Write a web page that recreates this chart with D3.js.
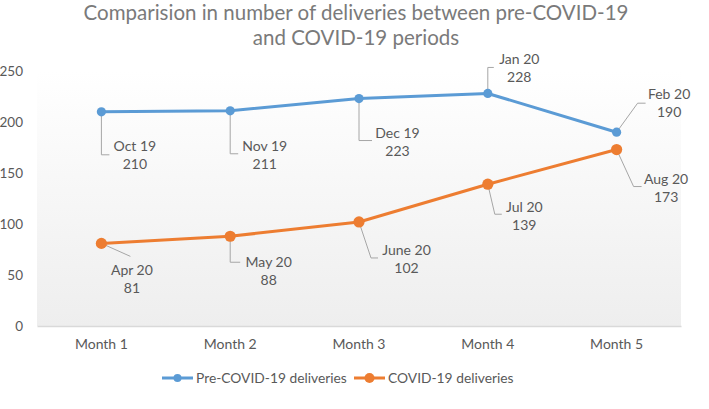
<!DOCTYPE html>
<html>
<head>
<meta charset="utf-8">
<script src="https://cdn.jsdelivr.net/npm/d3@7"></script>
<style>
  html, body { margin: 0; padding: 0; background: #ffffff; }
  svg { display: block; font-family: Lato, "Open Sans", sans-serif; }
</style>
</head>
<body>
<svg id="chart" width="709" height="409"></svg>
<script>
// ---- data ----
const categories = ["Month 1", "Month 2", "Month 3", "Month 4", "Month 5"];
const preCovidValues = [210, 211, 223, 228, 190];
const preCovidLabels = ["Oct 19", "Nov 19", "Dec 19", "Jan 20", "Feb 20"];
const covidValues = [81, 88, 102, 139, 173];
const covidLabels = ["Apr 20", "May 20", "June 20", "Jul 20", "Aug 20"];
const yTicks = [0, 50, 100, 150, 200, 250];
const seriesNames = ["Pre-COVID-19 deliveries", "COVID-19 deliveries"];
const titleLines = ["Comparision in number of deliveries between pre-COVID-19", "and COVID-19 periods"];

// ---- layout (label placement relative to points) ----
const preLayout = [
  {dx: 33.5, dy: 34, leader: [[0,0],[0,43],[8,43]]},
  {dx: 34.5, dy: 35, leader: [[0,0],[0,43],[8,43]]},
  {dx: 38.5, dy: 34.5, leader: [[0,0],[0,42],[13,42]]},
  {dx: 31.5, dy: -34.5, leader: [[0,0],[0,-26],[6,-26]]},
  {dx: 52.5, dy: -38, leader: [[0,0],[21,-29],[29,-29]]}
];
const covLayout = [
  {dx: 30.5, dy: 26.6, leader: [[0,0],[29,13]]},
  {dx: 38.5, dy: 26, leader: [[0,0],[0,26],[10,26]]},
  {dx: 47.5, dy: 28, leader: [[0,0],[12,36],[19,36]]},
  {dx: 36.5, dy: 23, leader: [[0,0],[7,30],[14,30]]},
  {dx: 49.5, dy: 29.5, leader: [[0,0],[17,37],[25,37]]}
];

const blue = "#5B9BD5", orange = "#ED7D31";
const textGray = "#595959";

const svg = d3.select("#chart");
const plot = {left: 37, right: 681, top: 71, bottom: 326};

const x = d3.scaleBand().domain(categories).range([plot.left, plot.right]);
const y = d3.scaleLinear().domain([0, 250]).range([plot.bottom, plot.top]);
const cx = c => x(c) + x.bandwidth() / 2;

// gradient background of plot area
const defs = svg.append("defs");
const grad = defs.append("linearGradient").attr("id", "bg").attr("x1", 0).attr("y1", 0).attr("x2", 0).attr("y2", 1);
grad.append("stop").attr("offset", "0%").attr("stop-color", "#ffffff");
grad.append("stop").attr("offset", "100%").attr("stop-color", "#eeeeee");
svg.append("rect")
  .attr("x", plot.left).attr("y", plot.top)
  .attr("width", plot.right - plot.left).attr("height", plot.bottom - plot.top)
  .attr("fill", "url(#bg)");

// title
svg.append("g").selectAll("text").data(titleLines).join("text")
  .attr("x", 356).attr("y", (d, i) => 20 + i * 25)
  .attr("text-anchor", "middle")
  .attr("font-size", 20.5)
  .attr("fill", "#7a7a7a")
  .text(d => d);

// y axis labels
svg.append("g").selectAll("text").data(yTicks).join("text")
  .attr("x", 23).attr("y", d => y(d))
  .attr("dy", "0.35em")
  .attr("text-anchor", "end")
  .attr("font-size", 13.5)
  .attr("fill", textGray)
  .text(d => d);

// x axis line
const xAxis = d3.axisBottom(x).tickSize(0).tickPadding(13);
const gx = svg.append("g").attr("transform", `translate(0,${plot.bottom})`).call(xAxis);
gx.select(".domain").attr("stroke", "#d9d9d9").attr("stroke-width", 1.3);
gx.selectAll("text").attr("font-size", 14).attr("fill", textGray)
  .attr("font-family", "Lato, 'Open Sans', sans-serif");

// series
const series = [
  {values: preCovidValues, labels: preCovidLabels, color: blue, r: 4.6, layout: preLayout},
  {values: covidValues, labels: covidLabels, color: orange, r: 5.6, layout: covLayout}
];

const line = d3.line().x((d, i) => cx(categories[i])).y(d => y(d));

series.forEach(s => {
  const g = svg.append("g");
  // leader lines
  g.selectAll("path.leader").data(s.values).join("path")
    .attr("class", "leader")
    .attr("d", (d, i) => {
      const px = cx(categories[i]), py = y(d);
      return d3.line()(s.layout[i].leader.map(p => [px + p[0], py + p[1]]));
    })
    .attr("fill", "none").attr("stroke", "#a6a6a6").attr("stroke-width", 1);
  g.append("path").datum(s.values)
    .attr("d", line)
    .attr("fill", "none").attr("stroke", s.color).attr("stroke-width", 3)
    .attr("stroke-linejoin", "round");
  g.selectAll("circle").data(s.values).join("circle")
    .attr("cx", (d, i) => cx(categories[i])).attr("cy", d => y(d))
    .attr("r", s.r).attr("fill", s.color);
  const lbl = g.selectAll("text").data(s.values).join("text")
    .attr("text-anchor", "middle")
    .attr("font-size", 14)
    .attr("fill", textGray)
    .attr("transform", (d, i) => `translate(${cx(categories[i]) + s.layout[i].dx},${y(d) + s.layout[i].dy})`);
  lbl.append("tspan").attr("x", 0).attr("y", 0).attr("dy", "0.35em").text((d, i) => s.labels[i]);
  lbl.append("tspan").attr("x", 0).attr("y", 18).attr("dy", "0.35em").text(d => d);
});

// legend
const legendItems = [
  {name: seriesNames[0], color: blue, r: 4.6, x0: 162},
  {name: seriesNames[1], color: orange, r: 5.6, x0: 354}
];
const lg = svg.append("g");
legendItems.forEach(it => {
  lg.append("line").attr("x1", it.x0).attr("x2", it.x0 + 31).attr("y1", 378).attr("y2", 378)
    .attr("stroke", it.color).attr("stroke-width", 3);
  lg.append("circle").attr("cx", it.x0 + 15.5).attr("cy", 378).attr("r", it.r - 0.6).attr("fill", it.color);
  lg.append("text").attr("x", it.x0 + 34).attr("y", 378).attr("dy", "0.35em")
    .attr("font-size", 13.8).attr("fill", textGray).text(it.name);
});
</script>
</body>
</html>
